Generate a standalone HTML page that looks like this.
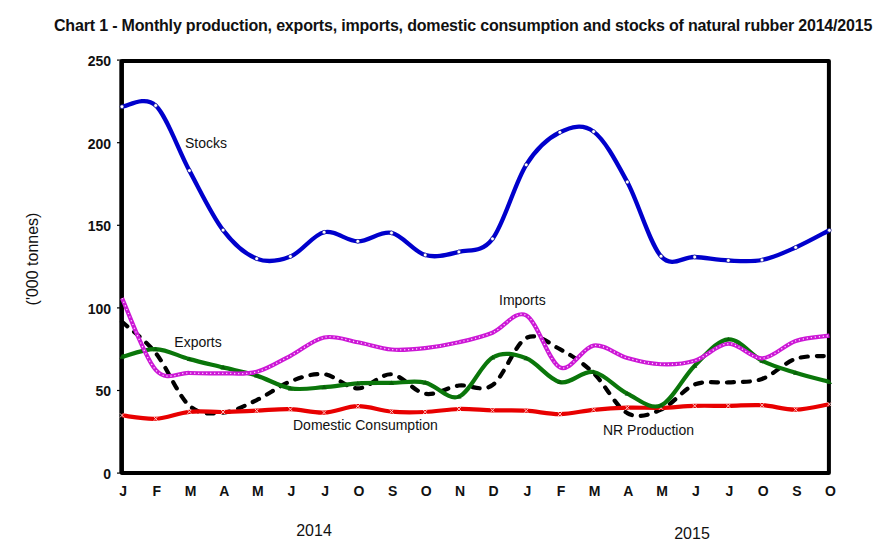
<!DOCTYPE html>
<html><head><meta charset="utf-8"><style>
html,body{margin:0;padding:0;background:#fff;width:892px;height:555px;overflow:hidden}
svg{display:block}
text{font-family:"Liberation Sans",sans-serif;fill:#111}
.b{font-weight:bold;font-size:14px}
.t{font-weight:bold;font-size:16px;letter-spacing:-0.18px}
.n{font-size:14px}
</style></head><body>
<svg width="892" height="555" viewBox="0 0 892 555">
<text x="54" y="31" class="t">Chart 1 - Monthly production, exports, imports, domestic consumption and stocks of natural rubber 2014/2015</text>
<text transform="translate(37.5,259) rotate(-90)" text-anchor="middle" style="font-size:16px">('000 tonnes)</text>
<path d="M121.8,61 H828.9 V473.1 H121.8 Z" fill="none" stroke="#000" stroke-width="4" stroke-linejoin="round"/>
<line x1="121.6" y1="61" x2="121.6" y2="473.1" stroke="#000" stroke-width="4.4"/>
<line x1="117" y1="473.1" x2="121" y2="473.1" stroke="#000" stroke-width="1.2"/>
<line x1="117" y1="390.5" x2="121" y2="390.5" stroke="#000" stroke-width="1.2"/>
<line x1="117" y1="307.9" x2="121" y2="307.9" stroke="#000" stroke-width="1.2"/>
<line x1="117" y1="225.3" x2="121" y2="225.3" stroke="#000" stroke-width="1.2"/>
<line x1="117" y1="142.7" x2="121" y2="142.7" stroke="#000" stroke-width="1.2"/>
<line x1="117" y1="60.1" x2="121" y2="60.1" stroke="#000" stroke-width="1.2"/>
<path d="M122.00,321.78 C127.61,326.98 144.46,339.01 155.69,353.00 C166.91,366.99 178.14,395.76 189.37,405.70 C200.60,415.64 211.83,413.57 223.06,412.64 C234.29,411.70 245.51,405.29 256.74,400.08 C267.97,394.88 279.20,385.74 290.43,381.41 C301.66,377.09 312.89,372.99 324.11,374.15 C335.34,375.30 346.57,388.32 357.80,388.35 C369.03,388.38 380.26,373.40 391.49,374.31 C402.71,375.22 413.94,391.93 425.17,393.80 C436.40,395.68 447.63,387.00 458.86,385.54 C470.09,384.08 481.31,392.98 492.54,385.05 C503.77,377.12 515.00,343.94 526.23,337.97 C537.46,331.99 548.69,343.34 559.91,349.20 C571.14,355.06 582.37,362.50 593.60,373.15 C604.83,383.81 616.06,407.05 627.29,413.13 C638.51,419.22 649.74,414.43 660.97,409.66 C672.20,404.90 683.43,389.10 694.66,384.55 C705.89,380.01 717.11,383.34 728.34,382.41 C739.57,381.47 750.80,382.87 762.03,378.94 C773.26,375.00 784.49,362.61 795.71,358.78 C806.94,354.95 823.79,356.44 829.40,355.97" fill="none" stroke="#000" stroke-width="4.2" stroke-dasharray="7 9" stroke-linecap="round"/>
<path d="M122.00,415.45 C127.61,416.00 144.46,419.35 155.69,418.75 C166.91,418.14 178.14,412.94 189.37,411.81 C200.60,410.68 211.83,412.17 223.06,411.98 C234.29,411.78 245.51,411.12 256.74,410.65 C267.97,410.19 279.20,408.84 290.43,409.17 C301.66,409.50 312.89,413.13 324.11,412.64 C335.34,412.14 346.57,406.36 357.80,406.19 C369.03,406.03 380.26,410.68 391.49,411.65 C402.71,412.61 413.94,412.42 425.17,411.98 C436.40,411.54 447.63,409.28 458.86,409.00 C470.09,408.73 481.31,410.05 492.54,410.32 C503.77,410.60 515.00,410.02 526.23,410.65 C537.46,411.29 548.69,414.26 559.91,414.12 C571.14,413.99 582.37,410.90 593.60,409.83 C604.83,408.75 616.06,408.01 627.29,407.68 C638.51,407.35 649.74,408.15 660.97,407.85 C672.20,407.54 683.43,406.19 694.66,405.86 C705.89,405.53 717.11,405.97 728.34,405.86 C739.57,405.75 750.80,404.57 762.03,405.20 C773.26,405.84 784.49,409.83 795.71,409.66 C806.94,409.50 823.79,405.12 829.40,404.21" fill="none" stroke="#e80000" stroke-width="4.2"/>
<path d="M120.0,413.4 l4,4 M124.0,413.4 l-4,4" stroke="#ffc0c0" stroke-width="1"/>
<path d="M153.7,416.7 l4,4 M157.7,416.7 l-4,4" stroke="#ffc0c0" stroke-width="1"/>
<path d="M187.4,409.8 l4,4 M191.4,409.8 l-4,4" stroke="#ffc0c0" stroke-width="1"/>
<path d="M221.1,410.0 l4,4 M225.1,410.0 l-4,4" stroke="#ffc0c0" stroke-width="1"/>
<path d="M254.7,408.7 l4,4 M258.7,408.7 l-4,4" stroke="#ffc0c0" stroke-width="1"/>
<path d="M288.4,407.2 l4,4 M292.4,407.2 l-4,4" stroke="#ffc0c0" stroke-width="1"/>
<path d="M322.1,410.6 l4,4 M326.1,410.6 l-4,4" stroke="#ffc0c0" stroke-width="1"/>
<path d="M355.8,404.2 l4,4 M359.8,404.2 l-4,4" stroke="#ffc0c0" stroke-width="1"/>
<path d="M389.5,409.6 l4,4 M393.5,409.6 l-4,4" stroke="#ffc0c0" stroke-width="1"/>
<path d="M423.2,410.0 l4,4 M427.2,410.0 l-4,4" stroke="#ffc0c0" stroke-width="1"/>
<path d="M456.9,407.0 l4,4 M460.9,407.0 l-4,4" stroke="#ffc0c0" stroke-width="1"/>
<path d="M490.5,408.3 l4,4 M494.5,408.3 l-4,4" stroke="#ffc0c0" stroke-width="1"/>
<path d="M524.2,408.7 l4,4 M528.2,408.7 l-4,4" stroke="#ffc0c0" stroke-width="1"/>
<path d="M557.9,412.1 l4,4 M561.9,412.1 l-4,4" stroke="#ffc0c0" stroke-width="1"/>
<path d="M591.6,407.8 l4,4 M595.6,407.8 l-4,4" stroke="#ffc0c0" stroke-width="1"/>
<path d="M625.3,405.7 l4,4 M629.3,405.7 l-4,4" stroke="#ffc0c0" stroke-width="1"/>
<path d="M659.0,405.8 l4,4 M663.0,405.8 l-4,4" stroke="#ffc0c0" stroke-width="1"/>
<path d="M692.7,403.9 l4,4 M696.7,403.9 l-4,4" stroke="#ffc0c0" stroke-width="1"/>
<path d="M726.3,403.9 l4,4 M730.3,403.9 l-4,4" stroke="#ffc0c0" stroke-width="1"/>
<path d="M760.0,403.2 l4,4 M764.0,403.2 l-4,4" stroke="#ffc0c0" stroke-width="1"/>
<path d="M793.7,407.7 l4,4 M797.7,407.7 l-4,4" stroke="#ffc0c0" stroke-width="1"/>
<path d="M827.4,402.2 l4,4 M831.4,402.2 l-4,4" stroke="#ffc0c0" stroke-width="1"/>
<path d="M122.00,356.80 C127.61,355.53 144.46,348.81 155.69,349.20 C166.91,349.59 178.14,356.08 189.37,359.11 C200.60,362.14 211.83,364.62 223.06,367.37 C234.29,370.13 245.51,372.14 256.74,375.63 C267.97,379.13 279.20,386.43 290.43,388.35 C301.66,390.28 312.89,388.02 324.11,387.20 C335.34,386.37 346.57,384.11 357.80,383.40 C369.03,382.68 380.26,383.04 391.49,382.90 C402.71,382.76 413.94,380.29 425.17,382.57 C436.40,384.86 447.63,400.80 458.86,396.61 C470.09,392.43 481.31,363.85 492.54,357.46 C503.77,351.07 515.00,354.18 526.23,358.29 C537.46,362.39 548.69,379.79 559.91,382.07 C571.14,384.36 582.37,370.07 593.60,372.00 C604.83,373.92 616.06,388.08 627.29,393.64 C638.51,399.20 649.74,410.02 660.97,405.37 C672.20,400.71 683.43,376.73 694.66,365.72 C705.89,354.71 717.11,340.11 728.34,339.29 C739.57,338.46 750.80,355.17 762.03,360.76 C773.26,366.35 784.49,369.30 795.71,372.82 C806.94,376.35 823.79,380.40 829.40,381.91" fill="none" stroke="#0a760a" stroke-width="4.2"/>
<path d="M122.0,354.4 l2.6,4.4 h-5.2 z" fill="#085f08"/>
<path d="M155.7,346.8 l2.6,4.4 h-5.2 z" fill="#085f08"/>
<path d="M189.4,356.7 l2.6,4.4 h-5.2 z" fill="#085f08"/>
<path d="M223.1,365.0 l2.6,4.4 h-5.2 z" fill="#085f08"/>
<path d="M256.7,373.2 l2.6,4.4 h-5.2 z" fill="#085f08"/>
<path d="M290.4,386.0 l2.6,4.4 h-5.2 z" fill="#085f08"/>
<path d="M324.1,384.8 l2.6,4.4 h-5.2 z" fill="#085f08"/>
<path d="M357.8,381.0 l2.6,4.4 h-5.2 z" fill="#085f08"/>
<path d="M391.5,380.5 l2.6,4.4 h-5.2 z" fill="#085f08"/>
<path d="M425.2,380.2 l2.6,4.4 h-5.2 z" fill="#085f08"/>
<path d="M458.9,394.2 l2.6,4.4 h-5.2 z" fill="#085f08"/>
<path d="M492.5,355.1 l2.6,4.4 h-5.2 z" fill="#085f08"/>
<path d="M526.2,355.9 l2.6,4.4 h-5.2 z" fill="#085f08"/>
<path d="M559.9,379.7 l2.6,4.4 h-5.2 z" fill="#085f08"/>
<path d="M593.6,369.6 l2.6,4.4 h-5.2 z" fill="#085f08"/>
<path d="M627.3,391.2 l2.6,4.4 h-5.2 z" fill="#085f08"/>
<path d="M661.0,403.0 l2.6,4.4 h-5.2 z" fill="#085f08"/>
<path d="M694.7,363.3 l2.6,4.4 h-5.2 z" fill="#085f08"/>
<path d="M728.3,336.9 l2.6,4.4 h-5.2 z" fill="#085f08"/>
<path d="M762.0,358.4 l2.6,4.4 h-5.2 z" fill="#085f08"/>
<path d="M795.7,370.4 l2.6,4.4 h-5.2 z" fill="#085f08"/>
<path d="M829.4,379.5 l2.6,4.4 h-5.2 z" fill="#085f08"/>
<path d="M122.00,298.15 C127.61,310.10 144.46,357.38 155.69,369.85 C166.91,382.32 178.14,372.41 189.37,372.99 C200.60,373.57 211.83,373.51 223.06,373.32 C234.29,373.13 245.51,374.75 256.74,371.83 C267.97,368.91 279.20,361.53 290.43,355.81 C301.66,350.08 312.89,339.73 324.11,337.47 C335.34,335.21 346.57,340.25 357.80,342.26 C369.03,344.27 380.26,348.57 391.49,349.53 C402.71,350.49 413.94,349.26 425.17,348.04 C436.40,346.83 447.63,344.82 458.86,342.26 C470.09,339.70 481.31,337.17 492.54,332.68 C503.77,328.19 515.00,309.55 526.23,315.33 C537.46,321.12 548.69,362.33 559.91,367.37 C571.14,372.41 582.37,347.13 593.60,345.57 C604.83,344.00 616.06,354.84 627.29,357.96 C638.51,361.07 649.74,363.77 660.97,364.23 C672.20,364.70 683.43,364.18 694.66,360.76 C705.89,357.35 717.11,344.16 728.34,343.75 C739.57,343.34 750.80,358.75 762.03,358.29 C773.26,357.82 784.49,344.71 795.71,340.94 C806.94,337.17 823.79,336.53 829.40,335.65" fill="none" stroke="#cc18d6" stroke-width="4.2"/>
<path d="M122.00,298.15 C127.61,310.10 144.46,357.38 155.69,369.85 C166.91,382.32 178.14,372.41 189.37,372.99 C200.60,373.57 211.83,373.51 223.06,373.32 C234.29,373.13 245.51,374.75 256.74,371.83 C267.97,368.91 279.20,361.53 290.43,355.81 C301.66,350.08 312.89,339.73 324.11,337.47 C335.34,335.21 346.57,340.25 357.80,342.26 C369.03,344.27 380.26,348.57 391.49,349.53 C402.71,350.49 413.94,349.26 425.17,348.04 C436.40,346.83 447.63,344.82 458.86,342.26 C470.09,339.70 481.31,337.17 492.54,332.68 C503.77,328.19 515.00,309.55 526.23,315.33 C537.46,321.12 548.69,362.33 559.91,367.37 C571.14,372.41 582.37,347.13 593.60,345.57 C604.83,344.00 616.06,354.84 627.29,357.96 C638.51,361.07 649.74,363.77 660.97,364.23 C672.20,364.70 683.43,364.18 694.66,360.76 C705.89,357.35 717.11,344.16 728.34,343.75 C739.57,343.34 750.80,358.75 762.03,358.29 C773.26,357.82 784.49,344.71 795.71,340.94 C806.94,337.17 823.79,336.53 829.40,335.65" fill="none" stroke="#ffd8ff" stroke-width="1.3" stroke-dasharray="1.2 2.8"/>
<path d="M122.00,106.69 C127.61,106.49 144.46,94.87 155.69,105.53 C166.91,116.19 178.14,149.86 189.37,170.62 C200.60,191.38 211.83,215.42 223.06,230.09 C234.29,244.77 245.51,254.27 256.74,258.67 C267.97,263.08 279.20,260.93 290.43,256.52 C301.66,252.12 312.89,234.77 324.11,232.24 C335.34,229.71 346.57,241.21 357.80,241.32 C369.03,241.43 380.26,230.61 391.49,232.90 C402.71,235.18 413.94,251.87 425.17,255.04 C436.40,258.20 447.63,254.60 458.86,251.90 C470.09,249.20 481.31,253.36 492.54,238.85 C503.77,224.34 515.00,182.60 526.23,164.84 C537.46,147.08 548.69,137.83 559.91,132.29 C571.14,126.76 582.37,123.34 593.60,131.63 C604.83,139.92 616.06,161.26 627.29,182.02 C638.51,202.78 649.74,243.69 660.97,256.19 C672.20,268.69 683.43,256.30 694.66,257.02 C705.89,257.73 717.11,259.99 728.34,260.49 C739.57,260.98 750.80,262.17 762.03,259.99 C773.26,257.82 784.49,252.39 795.71,247.44 C806.94,242.48 823.79,233.12 829.40,230.26" fill="none" stroke="#0000cc" stroke-width="4.3"/>
<circle cx="122.0" cy="106.7" r="1.9" fill="#fff" stroke="#000088" stroke-width="0.6"/>
<circle cx="155.7" cy="105.5" r="1.9" fill="#fff" stroke="#000088" stroke-width="0.6"/>
<circle cx="189.4" cy="170.6" r="1.9" fill="#fff" stroke="#000088" stroke-width="0.6"/>
<circle cx="223.1" cy="230.1" r="1.9" fill="#fff" stroke="#000088" stroke-width="0.6"/>
<circle cx="256.7" cy="258.7" r="1.9" fill="#fff" stroke="#000088" stroke-width="0.6"/>
<circle cx="290.4" cy="256.5" r="1.9" fill="#fff" stroke="#000088" stroke-width="0.6"/>
<circle cx="324.1" cy="232.2" r="1.9" fill="#fff" stroke="#000088" stroke-width="0.6"/>
<circle cx="357.8" cy="241.3" r="1.9" fill="#fff" stroke="#000088" stroke-width="0.6"/>
<circle cx="391.5" cy="232.9" r="1.9" fill="#fff" stroke="#000088" stroke-width="0.6"/>
<circle cx="425.2" cy="255.0" r="1.9" fill="#fff" stroke="#000088" stroke-width="0.6"/>
<circle cx="458.9" cy="251.9" r="1.9" fill="#fff" stroke="#000088" stroke-width="0.6"/>
<circle cx="492.5" cy="238.8" r="1.9" fill="#fff" stroke="#000088" stroke-width="0.6"/>
<circle cx="526.2" cy="164.8" r="1.9" fill="#fff" stroke="#000088" stroke-width="0.6"/>
<circle cx="559.9" cy="132.3" r="1.9" fill="#fff" stroke="#000088" stroke-width="0.6"/>
<circle cx="593.6" cy="131.6" r="1.9" fill="#fff" stroke="#000088" stroke-width="0.6"/>
<circle cx="627.3" cy="182.0" r="1.9" fill="#fff" stroke="#000088" stroke-width="0.6"/>
<circle cx="661.0" cy="256.2" r="1.9" fill="#fff" stroke="#000088" stroke-width="0.6"/>
<circle cx="694.7" cy="257.0" r="1.9" fill="#fff" stroke="#000088" stroke-width="0.6"/>
<circle cx="728.3" cy="260.5" r="1.9" fill="#fff" stroke="#000088" stroke-width="0.6"/>
<circle cx="762.0" cy="260.0" r="1.9" fill="#fff" stroke="#000088" stroke-width="0.6"/>
<circle cx="795.7" cy="247.4" r="1.9" fill="#fff" stroke="#000088" stroke-width="0.6"/>
<circle cx="829.4" cy="230.3" r="1.9" fill="#fff" stroke="#000088" stroke-width="0.6"/>
<text x="123.1" y="496.2" text-anchor="middle" class="b">J</text>
<text x="156.8" y="496.2" text-anchor="middle" class="b">F</text>
<text x="190.5" y="496.2" text-anchor="middle" class="b">M</text>
<text x="224.2" y="496.2" text-anchor="middle" class="b">A</text>
<text x="257.8" y="496.2" text-anchor="middle" class="b">M</text>
<text x="291.5" y="496.2" text-anchor="middle" class="b">J</text>
<text x="325.2" y="496.2" text-anchor="middle" class="b">J</text>
<text x="358.9" y="496.2" text-anchor="middle" class="b">O</text>
<text x="392.6" y="496.2" text-anchor="middle" class="b">S</text>
<text x="426.3" y="496.2" text-anchor="middle" class="b">O</text>
<text x="460.0" y="496.2" text-anchor="middle" class="b">N</text>
<text x="493.6" y="496.2" text-anchor="middle" class="b">D</text>
<text x="527.3" y="496.2" text-anchor="middle" class="b">J</text>
<text x="561.0" y="496.2" text-anchor="middle" class="b">F</text>
<text x="594.7" y="496.2" text-anchor="middle" class="b">M</text>
<text x="628.4" y="496.2" text-anchor="middle" class="b">A</text>
<text x="662.1" y="496.2" text-anchor="middle" class="b">M</text>
<text x="695.8" y="496.2" text-anchor="middle" class="b">J</text>
<text x="729.4" y="496.2" text-anchor="middle" class="b">J</text>
<text x="763.1" y="496.2" text-anchor="middle" class="b">O</text>
<text x="796.8" y="496.2" text-anchor="middle" class="b">S</text>
<text x="830.5" y="496.2" text-anchor="middle" class="b">O</text>
<text x="111" y="478.9" text-anchor="end" class="b">0</text>
<text x="111" y="396.3" text-anchor="end" class="b">50</text>
<text x="111" y="313.7" text-anchor="end" class="b">100</text>
<text x="111" y="231.1" text-anchor="end" class="b">150</text>
<text x="111" y="148.5" text-anchor="end" class="b">200</text>
<text x="111" y="65.9" text-anchor="end" class="b">250</text>
<text x="185" y="148" class="n">Stocks</text>
<text x="174.3" y="347" class="n">Exports</text>
<text x="499" y="305" class="n">Imports</text>
<text x="293" y="430" class="n">Domestic Consumption</text>
<text x="603" y="434.6" class="n">NR Production</text>
<text x="314" y="535.7" text-anchor="middle" style="font-size:16px">2014</text>
<text x="692" y="538.8" text-anchor="middle" style="font-size:16px">2015</text>
</svg>
</body></html>
